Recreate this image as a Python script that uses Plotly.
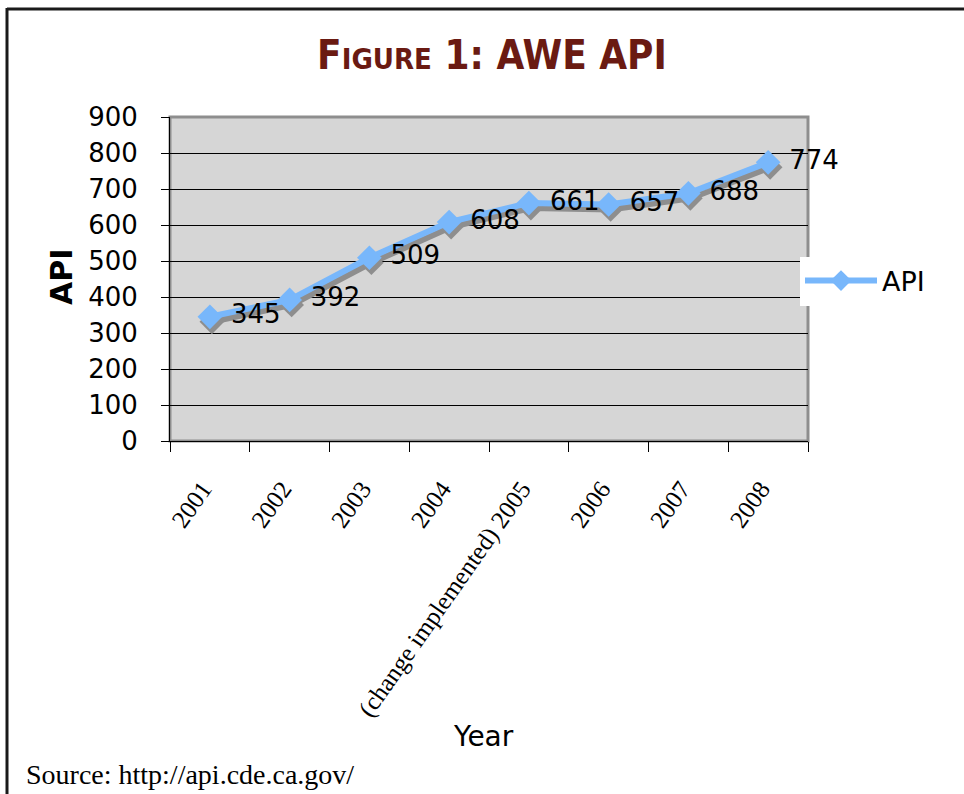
import plotly.graph_objects as go

years = ["2001", "2002", "2003", "2004", "(change implemented) 2005", "2006", "2007", "2008"]
api = [345, 392, 509, 608, 661, 657, 688, 774]
y_ticks = [0, 100, 200, 300, 400, 500, 600, 700, 800, 900]

W, H = 964, 794
L, R, T, B = 170, 808, 117, 441
pw, ph = R - L, B - T

def px(x):
    return (x - L) / pw

def py(y):
    return (B - y) / ph

# shadow offset (pixels) converted to axis units
sx = 2 * 8 / pw
sy = 5 * 900 / ph

fig = go.Figure()

# shadow line (hidden main axes, shifted range)
fig.add_trace(go.Scatter(
    x=years, y=api, mode="lines+markers", xaxis="x", yaxis="y",
    line=dict(color="#8e8e8e", width=6),
    marker=dict(symbol="diamond", size=19, color="#8e8e8e"),
    showlegend=False, hoverinfo="skip", cliponaxis=False,
))

# main line
fig.add_trace(go.Scatter(
    x=years, y=api, mode="lines+markers+text", xaxis="x2", yaxis="y2",
    name="API",
    line=dict(color="#78b7fb", width=6),
    marker=dict(symbol="diamond", size=19, color="#78b7fb"),
    text=["\u00a0" + str(v) for v in api], textposition="middle right",
    textfont=dict(family="DejaVu Sans, Verdana, sans-serif", size=26, color="black"),
    cliponaxis=False,
))

fig.update_layout(
    width=W, height=H,
    margin=dict(l=L, r=W - R, t=T, b=H - B, pad=0),
    paper_bgcolor="white",
    plot_bgcolor="#d6d6d6",
    title=dict(
        text='F<span style="font-size:29px">IGURE</span> 1: AWE API',
        font=dict(family="Liberation Sans Narrow, DejaVu Sans Condensed, Arial Narrow, sans-serif",
                  size=40, color="#6a1a12", weight="bold"),
        x=px(492), xref="paper", xanchor="center",
        y=1 - 55 / H, yref="container", yanchor="middle",
    ),
    xaxis=dict(type="category", categoryorder="array", categoryarray=years,
               range=[-0.5 - sx, 7.5 - sx], visible=False, fixedrange=True),
    yaxis=dict(range=[0 + sy, 900 + sy], visible=False, fixedrange=True),
    xaxis2=dict(type="category", categoryorder="array", categoryarray=years,
                overlaying="x", range=[-0.5, 7.5], side="bottom",
                tickmode="array", tickvals=years,
                ticktext=[y + "\u00a0\u00a0" for y in years],
                tickson="boundaries", ticks="outside", ticklen=10, tickwidth=1,
                tickcolor="black", showline=True, linecolor="black", linewidth=1,
                showgrid=False, tickangle=-55, ticklabelstandoff=12,
                tickfont=dict(family="Liberation Serif, Times New Roman, serif", size=25, color="black")),
    yaxis2=dict(overlaying="y", range=[0, 900], tickvals=y_ticks,
                ticks="outside", ticklen=8, tickwidth=1, tickcolor="black",
                showline=True, linecolor="black", linewidth=1, ticklabelstandoff=18,
                showgrid=True, gridcolor="black", gridwidth=1, zeroline=False,
                tickfont=dict(family="DejaVu Sans, Verdana, sans-serif", size=26, color="black")),
    legend=dict(x=px(800), xanchor="left", y=py(281), yanchor="middle",
                bgcolor="white", borderwidth=0, itemwidth=72,
                font=dict(family="DejaVu Sans, Verdana, sans-serif", size=27, color="black")),
    shapes=[
        dict(type="rect", xref="paper", yref="paper", x0=0, y0=0, x1=1, y1=1,
             line=dict(color="#8e8e8e", width=3), layer="between"),
        dict(type="line", xref="paper", yref="paper", x0=px(7), y0=py(9), x1=px(966), y1=py(9),
             line=dict(color="#1a1a1a", width=3)),
        dict(type="line", xref="paper", yref="paper", x0=px(7), y0=py(8), x1=px(7), y1=py(796),
             line=dict(color="#1a1a1a", width=3)),
    ],
    annotations=[
        dict(text="<b>API</b>", xref="paper", yref="paper", x=px(61), y=py(277),
             textangle=-90, showarrow=False, xanchor="center", yanchor="middle",
             font=dict(family="DejaVu Sans, Verdana, sans-serif", size=30, color="black")),
        dict(text="Year", xref="paper", yref="paper", x=px(483), y=py(736),
             showarrow=False, xanchor="center", yanchor="middle",
             font=dict(family="DejaVu Sans, Verdana, sans-serif", size=28, color="black")),
        dict(text="Source: http://api.cde.ca.gov/", xref="paper", yref="paper", x=px(24), y=py(775),
             showarrow=False, xanchor="left", yanchor="middle",
             font=dict(family="Liberation Serif, Times New Roman, serif", size=28, color="black")),
    ],
)

fig.write_html("out.html", config={"displayModeBar": False},
               post_script="document.body.style.margin='0';")
